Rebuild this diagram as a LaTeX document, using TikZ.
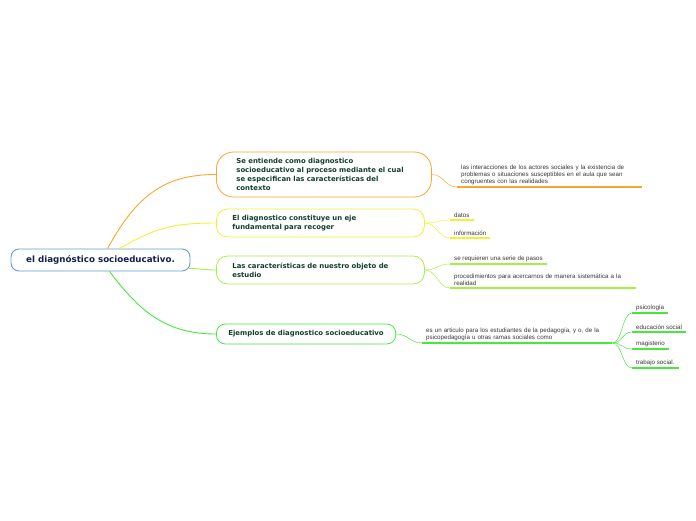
\documentclass[tikz,border=0pt]{standalone}
\usepackage{fontspec}
\usepackage{tikz}
\usetikzlibrary{calc}
\newfontfamily\topicfont{DejaVu Sans}
\newfontfamily\leaffont{Liberation Sans}
\definecolor{mOrange}{RGB}{250,165,45}
\definecolor{mYellow}{RGB}{242,240,50}
\definecolor{mLime}{RGB}{165,238,70}
\definecolor{mGreen}{RGB}{70,232,60}
\definecolor{mBlue}{RGB}{95,160,215}
\definecolor{mNavy}{RGB}{20,32,78}
\definecolor{mText}{RGB}{18,62,48}
\definecolor{mLeaf}{RGB}{55,55,55}
\tikzset{
  rootbox/.style={rectangle, rounded corners=8pt, draw=mBlue, line width=0.9pt,
                  fill=white, minimum width=179pt, minimum height=22pt,
                  font=\topicfont\bfseries\fontsize{8.7}{10}\selectfont, text=mNavy},
  topic/.style={rectangle, rounded corners=11pt, line width=0.8pt, fill=white,
                minimum height=28pt, align=left, anchor=west, text=mText,
                font=\topicfont\bfseries\fontsize{6.9}{9}\selectfont},
  leaf/.style={anchor=south west, inner xsep=4pt, inner ysep=2pt, align=left,
               text=mLeaf, font=\leaffont\fontsize{6.2}{7.2}\selectfont},
  branch/.style={line width=0.9pt},
  twig/.style={line width=0.5pt},
  uline/.style={line width=1.5pt},
}
\newcommand{\Leaf}[5][]{% {name}{at}{colour}{text}
  \node[leaf,#1] (#2) at (#3) {#5};
  \draw[uline,#4] (#2.south west) -- (#2.south east);}

\begin{document}
\begin{tikzpicture}[x=1pt, y=-1pt]
  \useasboundingbox (0,0) rectangle (696,520);
  \node[rootbox] (root) at (100.5,260) {el diagnóstico socioeducativo.};

  \node[topic, draw=mOrange, rounded corners=17pt, minimum height=45pt,
        text width=175pt, inner xsep=20pt] (def) at (216,174.5)
    {Se entiende como diagnostico\\ socioeducativo al proceso mediante el cual\\
     se especifican las características del\\ contexto};
  \node[topic, draw=mYellow, text width=176pt, inner xsep=16pt] (eje) at (216,223)
    {El diagnostico constituye un eje\\ fundamental para recoger};
  \node[topic, draw=mLime, text width=176pt, inner xsep=16pt] (obj) at (216,270)
    {Las características de nuestro objeto de\\ estudio};
  \node[topic, draw=mGreen, minimum height=20pt, rounded corners=9pt,
        inner xsep=12pt] (ejm) at (216,334)
    {Ejemplos de diagnostico socioeducativo};

  % main branches
  \draw[branch, mOrange] ($(root.north west)+(97,0)$)
    .. controls +(30,-55) and +(-50,0) .. (def.west);
  \draw[branch, mYellow] ($(root.north west)+(109,0)$)
    .. controls +(35,-20) and +(-45,0) .. (eje.west);
  \draw[branch, mLime] ($(root.south east)+(-2,-3)$)
    .. controls +(12,0) and +(-12,0) .. (obj.west);
  \draw[branch, mGreen] ($(root.south west)+(99,0)$)
    .. controls +(30,40) and +(-50,0) .. (ejm.west);

  \Leaf[text width=177pt]{int}{457,187}{mOrange}{las interacciones de los actores sociales y la existencia de\\
    problemas o situaciones susceptibles en el aula que sean\\ congruentes con las realidades}
  \Leaf{dat}{450,220}{mYellow}{datos}
  \Leaf{inf}{450,238}{mYellow}{información}
  \Leaf{pas}{450,264}{mLime}{se requieren una serie de pasos}
  \Leaf[text width=178pt]{pro}{450,288}{mLime}{procedimientos para acercarnos de manera sistemática a la\\ realidad}
  \Leaf[text width=182pt]{art}{422,343}{mGreen}{es un articulo para los estudiantes de la pedagogía, y o, de la\\
    psicopedagogía u otras ramas sociales como}
  \Leaf{psi}{632,313}{mGreen}{psicología}
  \Leaf{edu}{632,332}{mGreen}{educación social}
  \Leaf{mag}{632,349}{mGreen}{magisterio}
  \Leaf{tra}{632,368}{mGreen}{trabajo social.}

  \draw[twig, mOrange] (def.east) .. controls +(12,0) and +(-12,0) .. (int.south west);
  \foreach \n in {dat,inf}
    \draw[twig, mYellow] (eje.east) .. controls +(12,0) and +(-12,0) .. (\n.south west);
  \foreach \n in {pas,pro}
    \draw[twig, mLime] (obj.east) .. controls +(12,0) and +(-12,0) .. (\n.south west);
  \draw[twig, mGreen] (ejm.east) .. controls +(12,0) and +(-12,0) .. (art.south west);
  \foreach \n in {psi,edu,mag,tra}
    \draw[twig, mGreen] (art.south east) .. controls +(10,0) and +(-10,0) .. (\n.south west);
\end{tikzpicture}
\end{document}
